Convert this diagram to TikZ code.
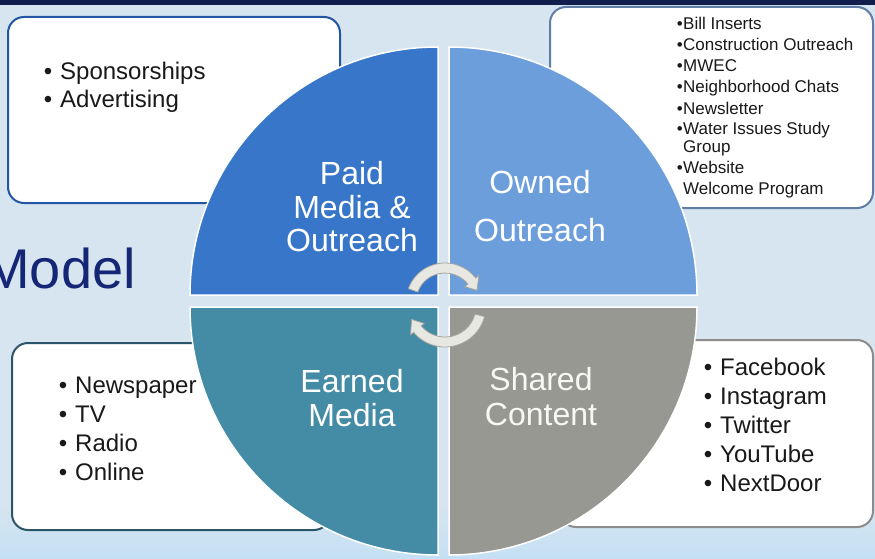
\documentclass[tikz,border=0pt]{standalone}
\usepackage{fontspec}
\setmainfont{Liberation Sans}
\definecolor{bg}{RGB}{214,229,240}
\definecolor{bgb}{RGB}{196,224,244}
\definecolor{navybar}{RGB}{18,30,78}
\definecolor{navytext}{RGB}{22,38,118}
\definecolor{paid}{RGB}{55,118,200}
\definecolor{owned}{RGB}{108,158,220}
\definecolor{earned}{RGB}{68,140,165}
\definecolor{shared}{RGB}{152,152,146}
\definecolor{bTL}{RGB}{35,85,165}
\definecolor{bTR}{RGB}{95,125,165}
\definecolor{bBL}{RGB}{45,85,105}
\definecolor{bBR}{RGB}{140,140,140}
\definecolor{txt}{RGB}{25,25,25}
\definecolor{arrfill}{RGB}{232,232,226}
\definecolor{arrdraw}{RGB}{165,165,160}
\begin{document}
\begin{tikzpicture}[x=1pt,y=-1pt,
  quad/.style={draw=white, line width=1.5pt},
  qtext/.style={text=white, font=\fontsize{32}{34}\selectfont, anchor=base, inner sep=0pt},
  infobox/.style={fill=white, rounded corners=16pt, line width=2pt},
  bigitem/.style={anchor=base west, inner sep=0pt, text=txt, font=\fontsize{24}{28}\selectfont},
  smallitem/.style={anchor=base west, inner sep=0pt, text=txt, font=\fontsize{17}{20}\selectfont},
  cyclearrow/.style={fill=arrfill, draw=arrdraw, line width=0.8pt, line join=round}
]
\useasboundingbox (0,0) rectangle (875,559);
\clip (0,0) rectangle (875,559);
% background
\fill[bg] (0,0) rectangle (875,559);
\shade[top color=bg, bottom color=bgb] (0,505) rectangle (875,559);
\fill[navybar] (0,0) rectangle (875,5);
% boxes
\draw[infobox, draw=bTL] (8,17) rectangle (340,203);
\draw[infobox, draw=bTR] (550,7) rectangle (873,208);
\draw[infobox, draw=bBL] (12,343) rectangle (330,530);
\draw[infobox, draw=bBR] (560,340) rectangle (873,527);
% title
\node[anchor=base east, inner sep=0pt, text=navytext, font=\fontsize{56}{60}\selectfont] (model) at (136,288) {Model};
% quadrants
\filldraw[quad, fill=paid] (438,295) -- ++(-248,0) arc[start angle=180,end angle=270,radius=248] -- cycle;
\filldraw[quad, fill=owned] (449,295) -- ++(0,-248) arc[start angle=270,end angle=360,radius=248] -- cycle;
\filldraw[quad, fill=shared] (449,307) -- ++(248,0) arc[start angle=0,end angle=90,radius=248] -- cycle;
\filldraw[quad, fill=earned] (438,307) -- ++(0,248) arc[start angle=90,end angle=180,radius=248] -- cycle;
% quadrant labels
\node[qtext] (paid1) at (352,184) {Paid};
\node[qtext] (paid2) at (352,218) {Media \&};
\node[qtext] (paid3) at (352,251) {Outreach};
\node[qtext] (own1) at (540,193) {Owned};
\node[qtext] (own2) at (540,241) {Outreach};
\node[qtext] (earn1) at (352,392) {Earned};
\node[qtext] (earn2) at (352,426) {Media};
\node[qtext, text=white!92!shared] (sh1) at (541,390) {Shared};
\node[qtext, text=white!92!shared] (sh2) at (541,425) {Content};
% cycle arrows
\begin{scope}[shift={(445,302)}]
\draw[cyclearrow] (200:39) arc[start angle=200, end angle=322, radius=39]
  -- (322:43) -- (340:34) -- (322:25) -- (322:29)
  arc[start angle=322, end angle=200, radius=29] -- cycle;
\end{scope}
\begin{scope}[shift={(445,306)}]
\draw[cyclearrow] (15:41) arc[start angle=15, end angle=140, radius=41]
  -- (140:45) -- (158:36) -- (140:27) -- (140:31)
  arc[start angle=140, end angle=15, radius=31] -- cycle;
\end{scope}
% top-left list
\foreach \t [count=\i] in {Sponsorships, Advertising} {
  \node[bigitem] (tl\i) at (60,{80+28*(\i-1)}) {\t};
  \node[bigitem, anchor=base] (tlb\i) at (48,{80+28*(\i-1)}) {\textbullet};
}
% bottom-left list
\foreach \t [count=\i] in {Newspaper, TV, Radio, Online} {
  \node[bigitem] (bl\i) at (75,{393+29.3*(\i-1)}) {\t};
  \node[bigitem, anchor=base] (blb\i) at (63,{393+29.3*(\i-1)}) {\textbullet};
}
% bottom-right list
\foreach \t [count=\i] in {Facebook, Instagram, Twitter, YouTube, NextDoor} {
  \node[bigitem] (br\i) at (720,{375+29.2*(\i-1)}) {\t};
  \node[bigitem, anchor=base] (brb\i) at (708,{375+29.2*(\i-1)}) {\textbullet};
}
% top-right list
\foreach \t/\y/\b [count=\i] in {Bill Inserts/30/1, Construction Outreach/51/1, MWEC/72/1, Neighborhood Chats/93/1, Newsletter/114/1, Water Issues Study/135/1, Group/153/0, Website/173/1, Welcome Program/194/0} {
  \node[smallitem] (tr\i) at (683,\y) {\t};
  \ifnum\b=1
    \node[smallitem, anchor=base east] (trb\i) at (683,\y) {\textbullet};
  \fi
}
\end{tikzpicture}
\end{document}
